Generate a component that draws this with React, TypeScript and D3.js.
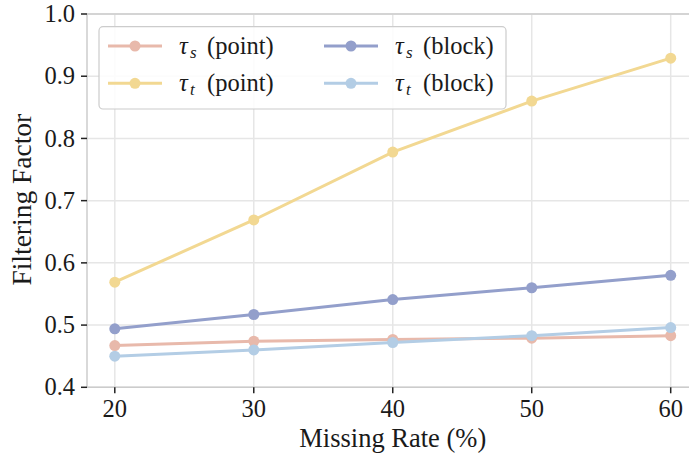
import React, { useEffect, useRef } from 'react'
import * as d3 from 'd3'

const missingRates = [20, 30, 40, 50, 60]
const yTicks = [0.4, 0.5, 0.6, 0.7, 0.8, 0.9, 1.0]

const tauSPoint = [0.467, 0.474, 0.477, 0.479, 0.483]
const tauTPoint = [0.569, 0.669, 0.778, 0.86, 0.929]
const tauSBlock = [0.494, 0.517, 0.541, 0.56, 0.58]
const tauTBlock = [0.45, 0.46, 0.472, 0.483, 0.496]

const seriesNames = ['s', 't', 's', 't']
const seriesKinds = ['(point)', '(point)', '(block)', '(block)']
const seriesColors = ['#e8b9ab', '#f2d892', '#939fcb', '#b3cde5']
const seriesValues = [tauSPoint, tauTPoint, tauSBlock, tauTBlock]

const FONT = "'Liberation Serif', 'Times New Roman', serif"

export default function App() {
    const svgRef = useRef<SVGSVGElement>(null)

    const width = 689
    const height = 454
    const margin = { left: 87, right: -9.5, top: 14, bottom: 66.7 }

    useEffect(() => {
        const svg = d3.select(svgRef.current)
        svg.selectAll('*').remove()

        const x = d3
            .scaleLinear()
            .domain([18, 62])
            .range([margin.left, width - margin.right])
        const y = d3
            .scaleLinear()
            .domain([0.4, 1.0])
            .range([height - margin.bottom, margin.top])

        const x0 = margin.left
        const x1 = width - margin.right
        const y0 = height - margin.bottom
        const y1 = margin.top

        // grid
        const grid = svg.append('g')
        grid.selectAll('.gy')
            .data(yTicks)
            .enter()
            .append('line')
            .attr('x1', x0)
            .attr('x2', x1)
            .attr('y1', (d) => y(d))
            .attr('y2', (d) => y(d))
            .attr('stroke', '#e6e6e6')
            .attr('stroke-width', 1.5)
        grid.selectAll('.gx')
            .data(missingRates)
            .enter()
            .append('line')
            .attr('x1', (d) => x(d))
            .attr('x2', (d) => x(d))
            .attr('y1', y0)
            .attr('y2', y1)
            .attr('stroke', '#e6e6e6')
            .attr('stroke-width', 1.5)

        // spines
        const spines = svg.append('g').attr('stroke', '#cccccc').attr('stroke-width', 1.5)
        spines.append('line').attr('x1', x0).attr('x2', x0).attr('y1', y0).attr('y2', y1)
        spines.append('line').attr('x1', x0).attr('x2', x1).attr('y1', y0).attr('y2', y0)
        spines.append('line').attr('x1', x0).attr('x2', x1).attr('y1', y1).attr('y2', y1)

        // ticks
        const yAxis = svg.append('g')
        yAxis.selectAll('line')
            .data(yTicks)
            .enter()
            .append('line')
            .attr('x1', x0 - 6)
            .attr('x2', x0)
            .attr('y1', (d) => y(d))
            .attr('y2', (d) => y(d))
            .attr('stroke', '#222')
            .attr('stroke-width', 1.5)
        yAxis.selectAll('text')
            .data(yTicks)
            .enter()
            .append('text')
            .attr('x', x0 - 12)
            .attr('y', (d) => y(d))
            .attr('dy', '0.33em')
            .attr('text-anchor', 'end')
            .style('font-family', FONT)
            .style('font-size', '24.5px')
            .attr('fill', '#1a1a1a')
            .text((d) => d3.format('.1f')(d))

        const xAxis = svg.append('g')
        xAxis.selectAll('line')
            .data(missingRates)
            .enter()
            .append('line')
            .attr('x1', (d) => x(d))
            .attr('x2', (d) => x(d))
            .attr('y1', y0)
            .attr('y2', y0 + 6)
            .attr('stroke', '#222')
            .attr('stroke-width', 1.5)
        xAxis.selectAll('text')
            .data(missingRates)
            .enter()
            .append('text')
            .attr('x', (d) => x(d))
            .attr('y', y0 + 30)
            .attr('text-anchor', 'middle')
            .style('font-family', FONT)
            .style('font-size', '24.5px')
            .attr('fill', '#1a1a1a')
            .text((d) => d)

        // axis labels
        svg.append('text')
            .attr('x', (x0 + x1) / 2)
            .attr('y', 447)
            .attr('text-anchor', 'middle')
            .style('font-family', FONT)
            .style('font-size', '26.5px')
            .attr('fill', '#1a1a1a')
            .text('Missing Rate (%)')
        svg.append('text')
            .attr('transform', `translate(31, ${(y0 + y1) / 2 - 1}) rotate(-90)`)
            .attr('text-anchor', 'middle')
            .style('font-family', FONT)
            .style('font-size', '27.5px')
            .attr('fill', '#1a1a1a')
            .text('Filtering Factor')

        // lines
        const line = d3
            .line<number>()
            .x((d, i) => x(missingRates[i]))
            .y((d) => y(d))

        seriesValues.forEach((vals, si) => {
            const g = svg.append('g')
            g.append('path')
                .attr('d', line(vals))
                .attr('fill', 'none')
                .attr('stroke', seriesColors[si])
                .attr('stroke-width', 3)
            g.selectAll('circle')
                .data(vals)
                .enter()
                .append('circle')
                .attr('cx', (d, i) => x(missingRates[i]))
                .attr('cy', (d) => y(d))
                .attr('r', 5.5)
                .attr('fill', seriesColors[si])
        })

        // legend
        const legend = svg.append('g')
        legend.append('rect')
            .attr('x', 99)
            .attr('y', 26.7)
            .attr('width', 407)
            .attr('height', 82.3)
            .attr('rx', 4)
            .attr('fill', 'white')
            .attr('fill-opacity', 0.85)
            .attr('stroke', '#cccccc')
            .attr('stroke-width', 1.2)

        const colX = [108, 324]
        const rowY = [46, 83.3]
        seriesValues.forEach((vals, si) => {
            const cx = colX[Math.floor(si / 2)]
            const cy = rowY[si % 2]
            const item = legend.append('g').attr('transform', `translate(${cx}, ${cy})`)
            item.append('line')
                .attr('x1', 0)
                .attr('x2', 54)
                .attr('stroke', seriesColors[si])
                .attr('stroke-width', 3)
            item.append('circle').attr('cx', 27).attr('r', 5.5).attr('fill', seriesColors[si])
            item.append('text')
                .attr('x', 71)
                .attr('y', 8)
                .style('font-family', FONT)
                .style('font-style', 'italic')
                .style('font-size', '24.5px')
                .attr('fill', '#1a1a1a')
                .text('τ')
            item.append('text')
                .attr('x', 82)
                .attr('y', 12)
                .style('font-family', FONT)
                .style('font-style', 'italic')
                .style('font-size', '17px')
                .attr('fill', '#1a1a1a')
                .text(seriesNames[si])
            item.append('text')
                .attr('x', 99)
                .attr('y', 8)
                .style('font-family', FONT)
                .style('font-size', '24.5px')
                .attr('fill', '#1a1a1a')
                .text(seriesKinds[si])
        })
    }, [])

    return (
        <svg
            ref={svgRef}
            width={width}
            height={height}
            style={{ position: 'absolute', left: 0, top: 0, background: 'white', fontFamily: FONT }}
        />
    )
}
